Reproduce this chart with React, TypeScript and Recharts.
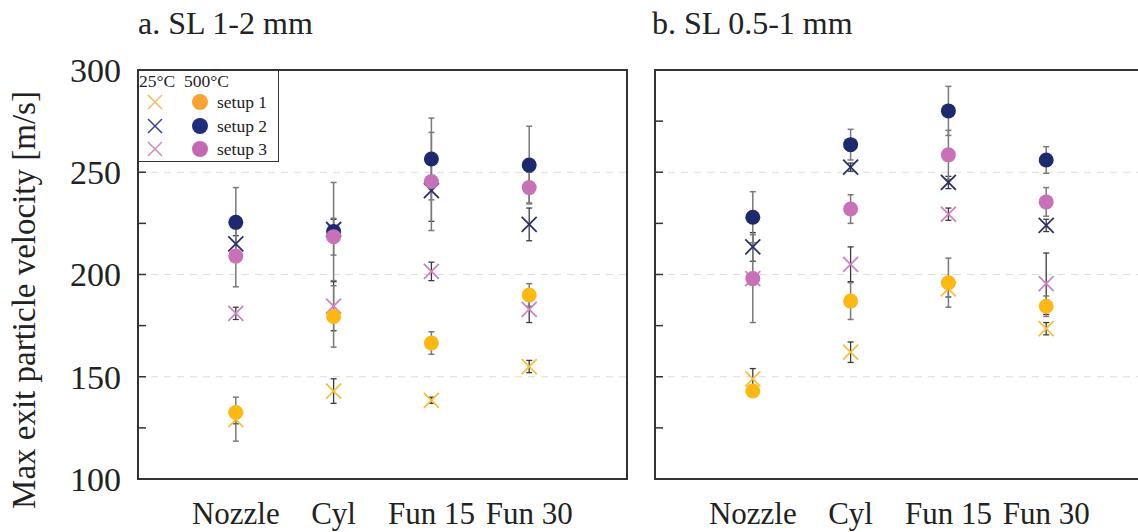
import React from 'react';
import { ScatterChart, Scatter, XAxis, YAxis, ErrorBar, ReferenceLine, ReferenceArea } from 'recharts';

const categories = ['Nozzle', 'Cyl', 'Fun 15', 'Fun 30'];
const catPos = [1, 2, 3, 4];
const yTicks = [100, 125, 150, 175, 200, 225, 250, 275, 300];
const gridValues = [150, 200, 250];

// panel a: SL 1-2 mm  (hot = 500°C circles, cold = 25°C crosses)
const aHot1 = [132.5, 179.5, 166.5, 190];
const aHot2 = [225.5, 221, 256.5, 253.5];
const aHot3 = [209, 218.5, 245.5, 242.5];
const aCold1 = [129, 143, 138.5, 155];
const aCold2 = [215, 222, 241, 224.5];
const aCold3 = [181, 184.5, 201.5, 183];
const aHot1Err = [[14, 7.5], 15, 5.5, 5.5];
const aHot2Err = [17, 24, 20, 19];
const aHot3Err = [15, 9, 24, 7.5];
const aCold1Err = [2, 6, 1.5, 3];
const aCold2Err = [4, 5, 15, 8];
const aCold3Err = [3, 12, 4.5, 6.5];

// panel b: SL 0.5-1 mm
const bHot1 = [143, 187, 196, 184.5];
const bHot2 = [228, 263.5, 280, 256];
const bHot3 = [198, 232, 258.5, 235.5];
const bCold1 = [149, 162, 193, 173.5];
const bCold2 = [213.5, 252.5, 245, 224];
const bCold3 = [198, 205, 229.5, 195.5];
const bHot1Err = [3, 9, 12, 5];
const bHot2Err = [12.5, 7.5, 12, 6.5];
const bHot3Err = [21.5, 7, 12, 7];
const bCold1Err = [5, 5, 4, 3];
const bCold2Err = [7, 2, 3, 3];
const bCold3Err = [3, 8.5, 3, 15];

const hotColors = ['#FDB813', '#1E2A6E', '#C870B8'];
const coldColors = ['#F4C13E', '#2B3166', '#CB86C1'];
const legendHot = ['#F8A434', '#202C7C', '#C468B1'];
const legendCold = ['#F7B860', '#3B3F91', '#C78CC0'];

const FONT = "'Liberation Serif', 'DejaVu Serif', serif";

const mk = (vals: number[], errs: any[]) =>
  vals.map((y, i) => ({ x: catPos[i], y, err: errs[i] }));

const Dot = (color: string) => (p: any) => <circle cx={p.cx} cy={p.cy} r={7.5} fill={color} />;
const Cross = (color: string) => (p: any) => {
  const s = 7.5;
  return (
    <g stroke={color} strokeWidth={1.8}>
      <line x1={p.cx - s} y1={p.cy - s} x2={p.cx + s} y2={p.cy + s} />
      <line x1={p.cx - s} y1={p.cy + s} x2={p.cx + s} y2={p.cy - s} />
    </g>
  );
};

const YTick = (showLabel: boolean) => (props: any) => {
  const { x, y, payload } = props;
  const v = payload.value;
  return (
    <g>
      {v > 100 && v < 300 && <line x1={x} y1={y} x2={x + 8} y2={y} stroke="#333" strokeWidth={1.5} />}
      {showLabel && v % 50 === 0 && (
        <text x={x - 17} y={y} dy="0.35em" textAnchor="end" fontSize={34} fontFamily={FONT} fill="#222">
          {v}
        </text>
      )}
    </g>
  );
};

const XTick = (props: any) => {
  const { x, y, payload } = props;
  return (
    <text x={x} y={y + 45} textAnchor="middle" fontSize={31} fontFamily={FONT} fill="#222">
      {categories[payload.value - 1]}
    </text>
  );
};

interface PanelProps {
  hot: number[][];
  cold: number[][];
  hotErr: any[][];
  coldErr: any[][];
  showLabels: boolean;
  yAxisWidth: number;
  width: number;
  rightMargin: number;
}

const Panel: React.FC<PanelProps> = ({ hot, cold, hotErr, coldErr, showLabels, yAxisWidth, width, rightMargin }) => (
  <ScatterChart width={width} height={532} margin={{ top: 70, right: rightMargin, bottom: 0, left: 0 }}>
    <XAxis
      type="number"
      dataKey="x"
      domain={[0, 5]}
      ticks={catPos}
      tick={XTick}
      tickLine={false}
      axisLine={false}
      tickSize={0}
      tickMargin={0}
      height={53}
      allowDataOverflow
    />
    <YAxis
      type="number"
      dataKey="y"
      domain={[100, 300]}
      ticks={yTicks}
      tick={YTick(showLabels)}
      tickLine={false}
      axisLine={false}
      tickSize={0}
      tickMargin={0}
      width={yAxisWidth}
      interval={0}
      allowDataOverflow
    />
    {gridValues.map((g) => (
      <ReferenceLine key={g} y={g} stroke="#dcdcdc" strokeDasharray="7 6" strokeWidth={1} />
    ))}
    <ReferenceArea x1={0} x2={5} y1={100} y2={300} fill="none" stroke="#333" strokeWidth={2} strokeOpacity={1} fillOpacity={0} />
    {cold.map((vals, i) => (
      <Scatter key={'c' + i} data={mk(vals, coldErr[i])} shape={Cross(coldColors[i])} isAnimationActive={false}>
        <ErrorBar dataKey="err" direction="y" width={3} stroke="#3a3a3a" strokeWidth={1.3} />
      </Scatter>
    ))}
    {hot.map((vals, i) => (
      <Scatter key={'h' + i} data={mk(vals, hotErr[i])} shape={Dot(hotColors[i])} isAnimationActive={false}>
        <ErrorBar dataKey="err" direction="y" width={3} stroke="#7a7a7a" strokeWidth={1.5} />
      </Scatter>
    ))}
  </ScatterChart>
);

const Legend = () => (
  <div
    style={{
      position: 'absolute', left: 138, top: 70, width: 141, height: 92,
      border: '1.5px solid #333', background: '#fff', boxSizing: 'border-box', fontFamily: FONT,
    }}
  >
    <div style={{ position: 'absolute', left: 0, top: 0, fontSize: 17.5, lineHeight: '20px', color: '#222', whiteSpace: 'pre' }}>25°C  500°C</div>
    {[0, 1, 2].map((i) => (
      <div key={i} style={{ position: 'absolute', left: 0, top: 21 + i * 23.5, height: 20, width: 139 }}>
        <svg width={80} height={20} style={{ position: 'absolute', left: 0, top: 0 }}>
          <g stroke={legendCold[i]} strokeWidth={1.5}>
            <line x1={9} y1={3} x2={23} y2={17} />
            <line x1={9} y1={17} x2={23} y2={3} />
          </g>
          <circle cx={61} cy={10} r={8} fill={legendHot[i]} />
        </svg>
        <span style={{ position: 'absolute', left: 78, top: 0, fontSize: 17.5, lineHeight: '20px', color: '#222' }}>
          setup {i + 1}
        </span>
      </div>
    ))}
  </div>
);

export default function App() {
  return (
    <div style={{ position: 'absolute', left: 0, top: 0, width: 1138, height: 532, overflow: 'hidden', background: '#fff', fontFamily: FONT }}>
      <div style={{ position: 'absolute', left: 138, top: 7, fontSize: 32, lineHeight: '32px', color: '#222', whiteSpace: 'pre' }}>a. SL 1-2 mm</div>
      <div style={{ position: 'absolute', left: 652, top: 7, fontSize: 32, lineHeight: '32px', color: '#222', whiteSpace: 'pre' }}>b. SL 0.5-1 mm</div>
      <div
        style={{
          position: 'absolute', left: 24 - 230, top: 300 - 18, width: 460, height: 36, lineHeight: '36px',
          textAlign: 'center', fontSize: 33, color: '#222', transform: 'rotate(-90deg)', whiteSpace: 'pre',
        }}
      >
        Max exit particle velocity [m/s]
      </div>
      <div style={{ position: 'absolute', left: 0, top: 0 }}>
        <Panel
          hot={[aHot1, aHot2, aHot3]}
          cold={[aCold1, aCold2, aCold3]}
          hotErr={[aHot1Err, aHot2Err, aHot3Err]}
          coldErr={[aCold1Err, aCold2Err, aCold3Err]}
          showLabels
          yAxisWidth={138}
          width={640}
          rightMargin={13}
        />
      </div>
      <div style={{ position: 'absolute', left: 600, top: 0 }}>
        <Panel
          hot={[bHot1, bHot2, bHot3]}
          cold={[bCold1, bCold2, bCold3]}
          hotErr={[bHot1Err, bHot2Err, bHot3Err]}
          coldErr={[bCold1Err, bCold2Err, bCold3Err]}
          showLabels={false}
          yAxisWidth={55}
          width={600}
          rightMargin={56}
        />
      </div>
      <Legend />
    </div>
  );
}
